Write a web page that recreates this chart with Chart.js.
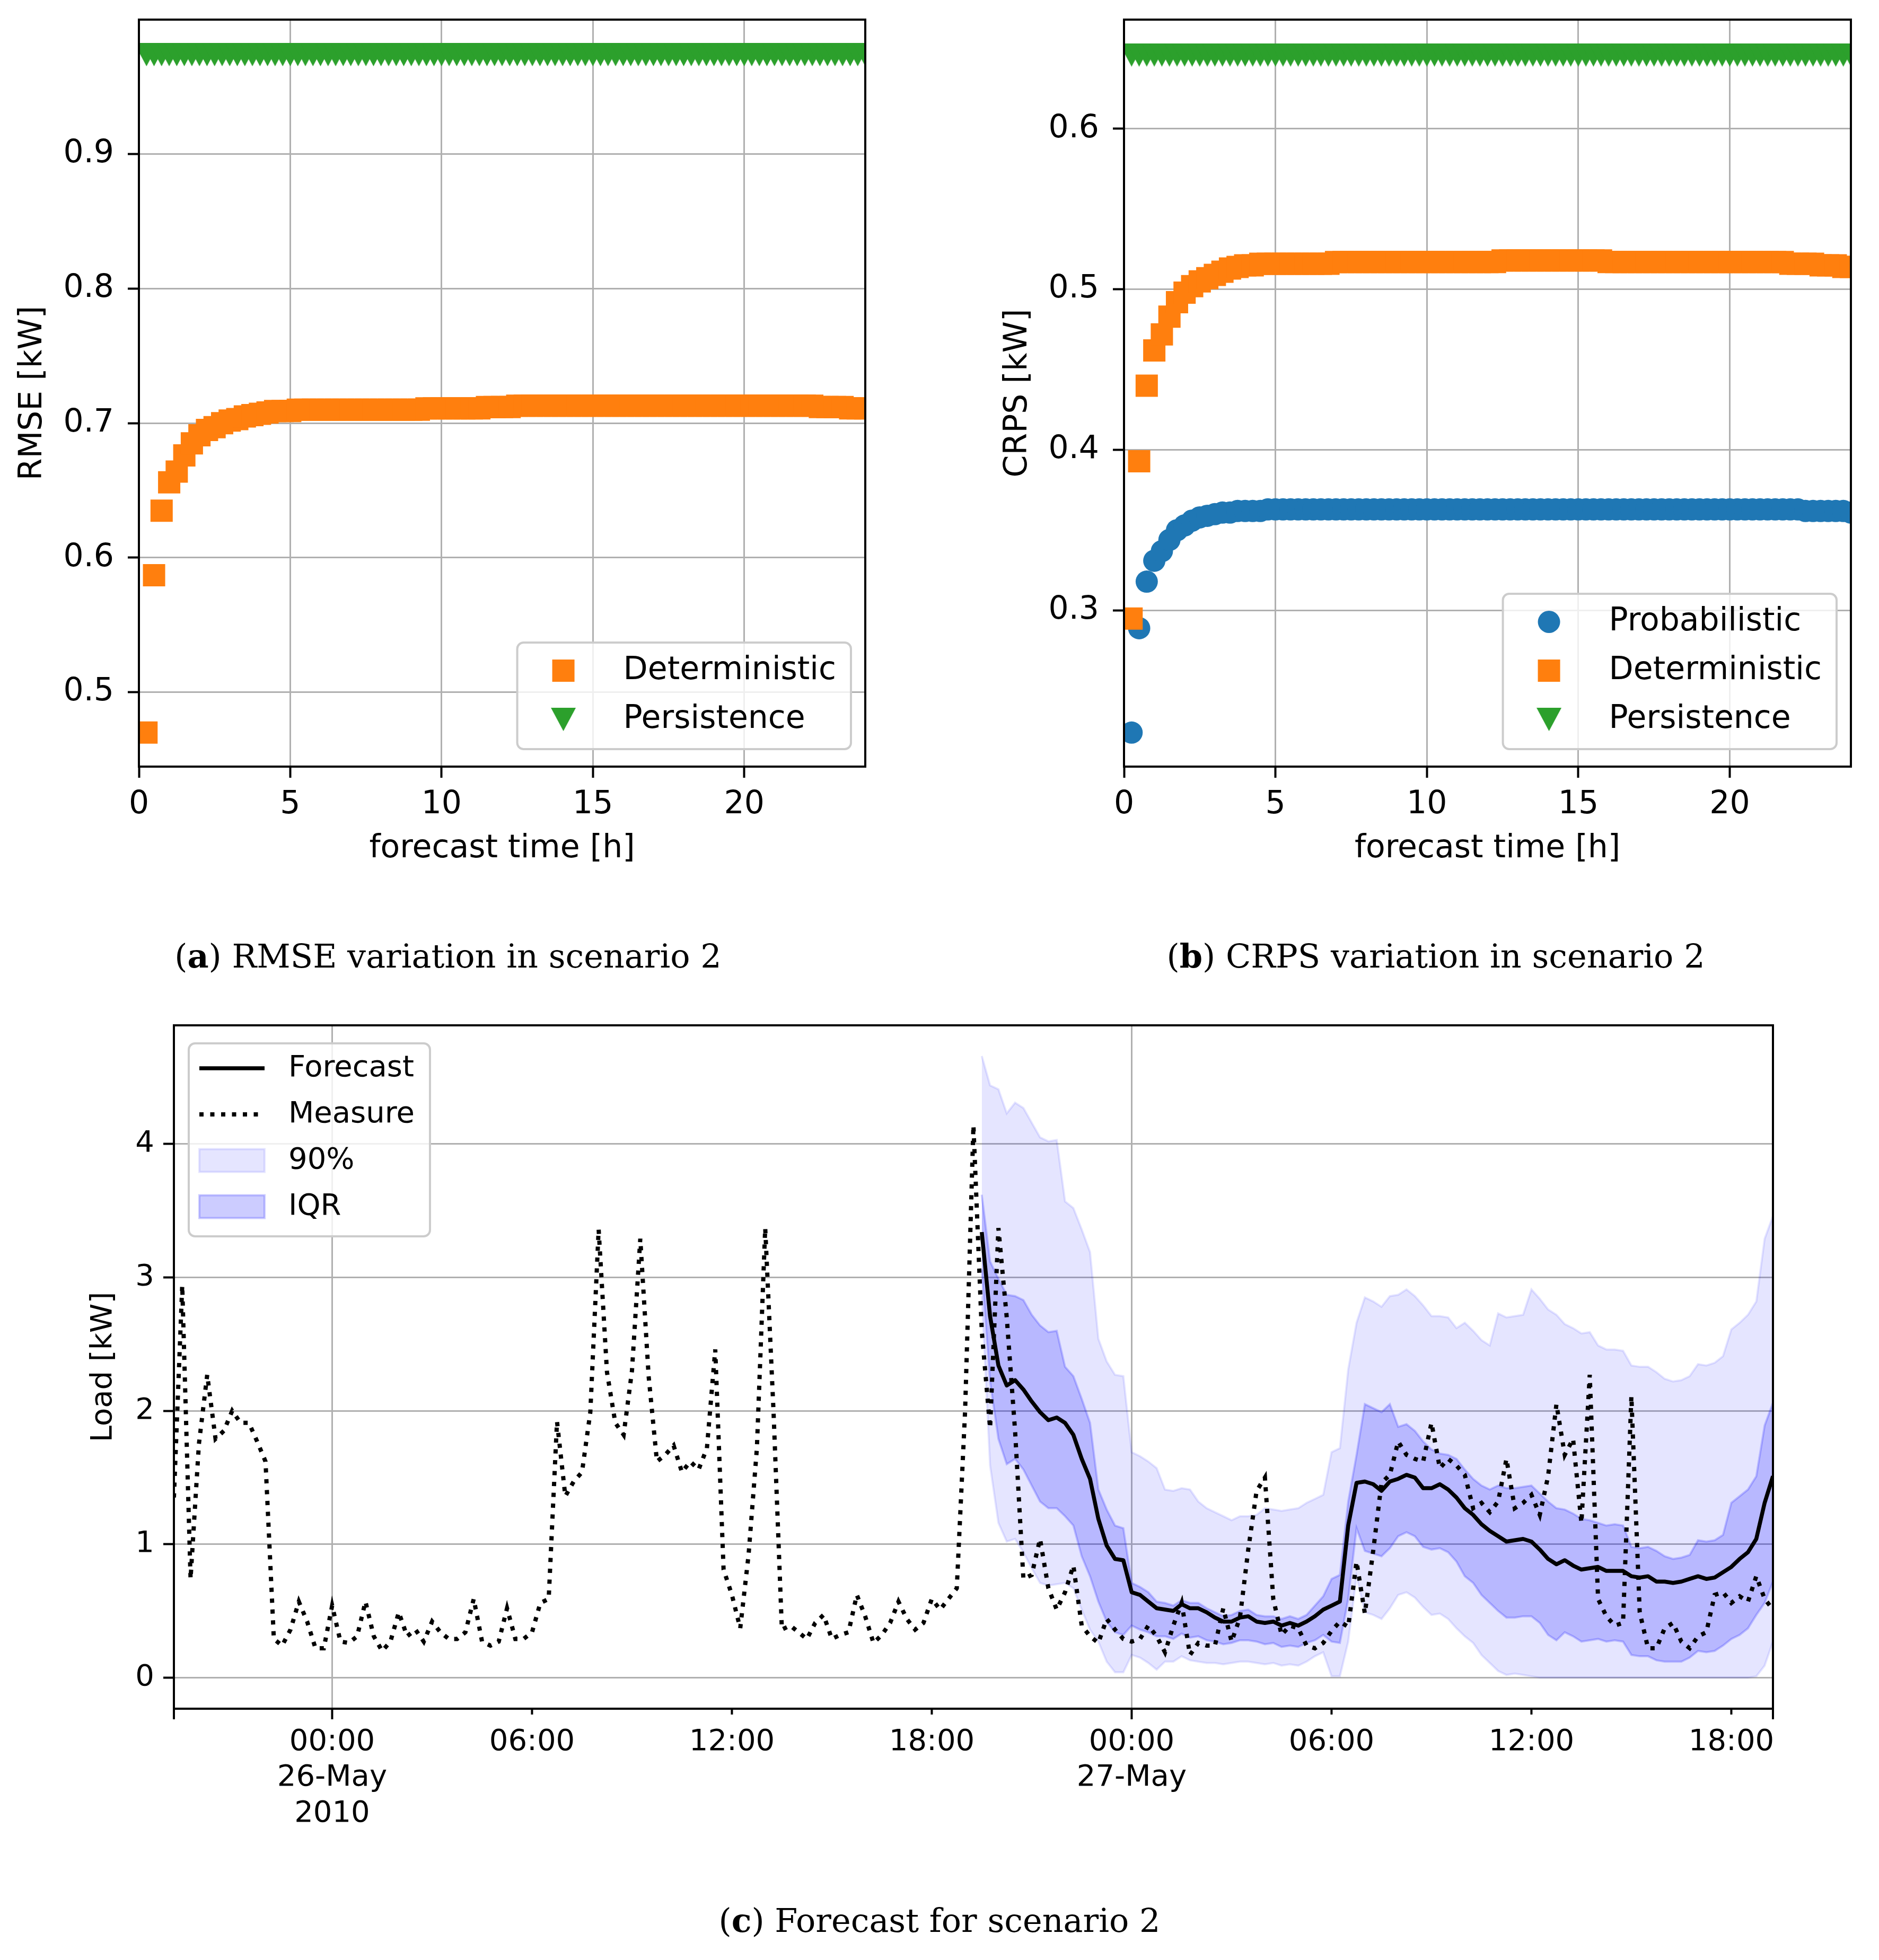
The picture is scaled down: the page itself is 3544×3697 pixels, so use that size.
<!DOCTYPE html>
<html lang="en">
<head>
<meta charset="UTF-8">
<title>Scenario 2: RMSE, CRPS and forecast</title>
<script src="https://cdn.jsdelivr.net/npm/chart.js"></script>
<style>
  body { margin: 0; background: #fff; }
  #page { position: relative; width: 3544px; height: 3697px; overflow: hidden; background: #fff; }
  canvas { position: absolute; }
  .caption {
    position: absolute;
    transform: translate(-50%, -50%);
    white-space: nowrap;
    font-family: "DejaVu Serif", serif;
    font-size: 62px;
    color: #000;
  }
</style>
</head>
<body>
<div id="page">
  <canvas id="chartA" width="1720" height="1700" style="left:0;top:0"></canvas>
  <canvas id="chartB" width="1772" height="1700" style="left:1772px;top:0"></canvas>
  <canvas id="chartC" width="3544" height="1600" style="left:0;top:1880px"></canvas>
  <div class="caption" style="left:845px;top:1803px">(<b>a</b>) RMSE variation in scenario 2</div>
  <div class="caption" style="left:2708px;top:1803px">(<b>b</b>) CRPS variation in scenario 2</div>
  <div class="caption" style="left:1772px;top:3622px">(<b>c</b>) Forecast for scenario 2</div>
</div>

<script>
// ---- panels (a) and (b): error vs forecast horizon, 96 horizons of 15 min ----
const horizons = Array.from({ length: 96 }, (_, i) => (i + 1) * 0.25);
const hourTicks = [0, 5, 10, 15, 20];
const rmseTicks = [0.5, 0.6, 0.7, 0.8, 0.9];
const crpsTicks = [0.3, 0.4, 0.5, 0.6];

const rmseDeterministic = [
  0.470, 0.587, 0.635, 0.656, 0.664, 0.676, 0.685, 0.691, 0.695, 0.697, 0.700, 0.702,
  0.703, 0.705, 0.706, 0.707, 0.708, 0.709, 0.709, 0.709, 0.710, 0.710, 0.710, 0.710,
  0.710, 0.710, 0.710, 0.710, 0.710, 0.710, 0.710, 0.710, 0.710, 0.710, 0.710, 0.710,
  0.710, 0.711, 0.711, 0.711, 0.711, 0.711, 0.711, 0.711, 0.711, 0.712, 0.712, 0.712,
  0.712, 0.713, 0.713, 0.713, 0.713, 0.713, 0.713, 0.713, 0.713, 0.713, 0.713, 0.713,
  0.713, 0.713, 0.713, 0.713, 0.713, 0.713, 0.713, 0.713, 0.713, 0.713, 0.713, 0.713,
  0.713, 0.713, 0.713, 0.713, 0.713, 0.713, 0.713, 0.713, 0.713, 0.713, 0.713, 0.713,
  0.713, 0.713, 0.713, 0.713, 0.713, 0.712, 0.712, 0.712, 0.712, 0.711, 0.711, 0.711
];
const rmsePersistence = [
  0.974, 0.974, 0.974, 0.974, 0.974, 0.974, 0.974, 0.974, 0.974, 0.974, 0.974, 0.974,
  0.974, 0.974, 0.974, 0.974, 0.974, 0.974, 0.974, 0.974, 0.974, 0.974, 0.974, 0.974,
  0.974, 0.974, 0.974, 0.974, 0.974, 0.974, 0.974, 0.974, 0.974, 0.974, 0.974, 0.974,
  0.974, 0.974, 0.974, 0.974, 0.974, 0.974, 0.974, 0.974, 0.974, 0.974, 0.974, 0.974,
  0.974, 0.974, 0.974, 0.974, 0.974, 0.974, 0.974, 0.974, 0.974, 0.974, 0.974, 0.974,
  0.974, 0.974, 0.974, 0.974, 0.974, 0.974, 0.974, 0.974, 0.974, 0.974, 0.974, 0.974,
  0.974, 0.974, 0.974, 0.974, 0.974, 0.974, 0.974, 0.974, 0.974, 0.974, 0.974, 0.974,
  0.974, 0.974, 0.974, 0.974, 0.974, 0.974, 0.974, 0.974, 0.974, 0.974, 0.974, 0.974
];

const crpsProbabilistic = [
  0.224, 0.289, 0.318, 0.331, 0.337, 0.344, 0.350, 0.353, 0.356, 0.358, 0.359, 0.360,
  0.361, 0.361, 0.362, 0.362, 0.362, 0.362, 0.363, 0.363, 0.363, 0.363, 0.363, 0.363,
  0.363, 0.363, 0.363, 0.363, 0.363, 0.363, 0.363, 0.363, 0.363, 0.363, 0.363, 0.363,
  0.363, 0.363, 0.363, 0.363, 0.363, 0.363, 0.363, 0.363, 0.363, 0.363, 0.363, 0.363,
  0.363, 0.363, 0.363, 0.363, 0.363, 0.363, 0.363, 0.363, 0.363, 0.363, 0.363, 0.363,
  0.363, 0.363, 0.363, 0.363, 0.363, 0.363, 0.363, 0.363, 0.363, 0.363, 0.363, 0.363,
  0.363, 0.363, 0.363, 0.363, 0.363, 0.363, 0.363, 0.363, 0.363, 0.363, 0.363, 0.363,
  0.363, 0.363, 0.363, 0.363, 0.363, 0.362, 0.362, 0.362, 0.362, 0.362, 0.362, 0.361
];
const crpsDeterministic = [
  0.295, 0.393, 0.440, 0.462, 0.472, 0.483, 0.492, 0.498, 0.502, 0.505, 0.507, 0.509,
  0.511, 0.513, 0.514, 0.515, 0.515, 0.516, 0.516, 0.516, 0.516, 0.516, 0.516, 0.516,
  0.516, 0.516, 0.516, 0.517, 0.517, 0.517, 0.517, 0.517, 0.517, 0.517, 0.517, 0.517,
  0.517, 0.517, 0.517, 0.517, 0.517, 0.517, 0.517, 0.517, 0.517, 0.517, 0.517, 0.517,
  0.517, 0.518, 0.518, 0.518, 0.518, 0.518, 0.518, 0.518, 0.518, 0.518, 0.518, 0.518,
  0.518, 0.518, 0.518, 0.517, 0.517, 0.517, 0.517, 0.517, 0.517, 0.517, 0.517, 0.517,
  0.517, 0.517, 0.517, 0.517, 0.517, 0.517, 0.517, 0.517, 0.517, 0.517, 0.517, 0.517,
  0.517, 0.517, 0.517, 0.516, 0.516, 0.516, 0.516, 0.515, 0.515, 0.515, 0.514, 0.514
];
const crpsPersistence = [
  0.646, 0.646, 0.646, 0.646, 0.646, 0.646, 0.646, 0.646, 0.646, 0.646, 0.646, 0.646,
  0.646, 0.646, 0.646, 0.646, 0.646, 0.646, 0.646, 0.646, 0.646, 0.646, 0.646, 0.646,
  0.646, 0.646, 0.646, 0.646, 0.646, 0.646, 0.646, 0.646, 0.646, 0.646, 0.646, 0.646,
  0.646, 0.646, 0.646, 0.646, 0.646, 0.646, 0.646, 0.646, 0.646, 0.646, 0.646, 0.646,
  0.646, 0.646, 0.646, 0.646, 0.646, 0.646, 0.646, 0.646, 0.646, 0.646, 0.646, 0.646,
  0.646, 0.646, 0.646, 0.646, 0.646, 0.646, 0.646, 0.646, 0.646, 0.646, 0.646, 0.646,
  0.646, 0.646, 0.646, 0.646, 0.646, 0.646, 0.646, 0.646, 0.646, 0.646, 0.646, 0.646,
  0.646, 0.646, 0.646, 0.646, 0.646, 0.646, 0.646, 0.646, 0.646, 0.646, 0.646, 0.646
];

// ---- panel (c): load in kW, time in hours from 26-May-2010 00:00 ----
const loadTicks = [0, 1, 2, 3, 4];
const timeTicks = [-4.75, 0, 6, 12, 18, 24, 30, 36, 42];
const timeTickLabels = ['', ['00:00', '26-May', '2010'], '06:00', '12:00', '18:00',
                        ['00:00', '27-May'], '06:00', '12:00', '18:00'];
const majorTimeTicks = [-4.75, 0, 24, 43.25];
const minorTimeTicks = [6, 12, 18, 30, 36, 42];

// measured load, one value every 15 min from 25-May 19:15 (4 per group = 1 hour)
const measure = [
  1.35, 2.94, 0.74, 1.75,   2.27, 1.79, 1.85, 2.00,   1.91, 1.91, 1.77, 1.62,
  0.29, 0.24, 0.36, 0.57,   0.42, 0.22, 0.22, 0.54,   0.27, 0.26, 0.31, 0.57,
  0.31, 0.20, 0.27, 0.49,   0.31, 0.36, 0.27, 0.42,   0.34, 0.29, 0.29, 0.34,
  0.59, 0.27, 0.24, 0.27,   0.52, 0.29, 0.29, 0.34,   0.56, 0.59, 1.92, 1.36,
  1.47, 1.54, 1.99, 3.36,   2.29, 1.91, 1.82, 2.30,   3.29, 2.26, 1.62, 1.67,
  1.74, 1.54, 1.62, 1.56,   1.72, 2.46, 0.81, 0.62,   0.37, 0.92, 1.72, 3.37,
  1.99, 0.36, 0.39, 0.34,   0.29, 0.41, 0.47, 0.29,   0.32, 0.34, 0.62, 0.46,
  0.26, 0.32, 0.41, 0.57,   0.44, 0.36, 0.41, 0.59,   0.51, 0.59, 0.67, 2.00,
  4.14, 2.60, 1.87, 3.37,   2.70, 1.85, 0.74, 0.77,   1.04, 0.67, 0.51, 0.64,
  0.84, 0.39, 0.31, 0.26,   0.44, 0.36, 0.29, 0.27,   0.29, 0.39, 0.31, 0.19,
  0.39, 0.56, 0.17, 0.26,   0.24, 0.24, 0.52, 0.27,   0.45, 0.96, 1.40, 1.50,
  0.59, 0.32, 0.39, 0.37,   0.24, 0.22, 0.26, 0.35,   0.42, 0.38, 0.87, 0.48,
  0.95, 1.46, 1.52, 1.77,   1.67, 1.64, 1.62, 1.91,   1.57, 1.64, 1.59, 1.52,
  1.27, 1.31, 1.24, 1.32,   1.64, 1.27, 1.31, 1.37,   1.22, 1.51, 2.05, 1.67,
  1.79, 1.16, 2.27, 0.59,   0.46, 0.39, 0.41, 2.11,   0.49, 0.22, 0.22, 0.37,
  0.41, 0.27, 0.22, 0.31,   0.34, 0.62, 0.64, 0.56,   0.61, 0.57, 0.76, 0.59,
  0.51
];

// forecast quantiles, one value every 15 min from 26-May 19:30
const forecastMedian = [
  3.34, 2.71,
  2.34, 2.19, 2.23, 2.16,   2.07, 1.99, 1.93, 1.95,   1.91, 1.82, 1.64, 1.49,   1.19, 0.99, 0.89, 0.88,
  0.64, 0.62, 0.57, 0.52,   0.51, 0.50, 0.55, 0.52,   0.52, 0.49, 0.45, 0.42,   0.42, 0.45, 0.46, 0.42,
  0.41, 0.42, 0.39, 0.41,   0.39, 0.42, 0.46, 0.51,   0.54, 0.57, 1.14, 1.46,   1.47, 1.45, 1.40, 1.47,
  1.49, 1.52, 1.50, 1.42,   1.42, 1.45, 1.41, 1.35,   1.27, 1.22, 1.15, 1.10,   1.06, 1.02, 1.03, 1.04,
  1.02, 0.96, 0.89, 0.85,   0.88, 0.84, 0.81, 0.82,   0.83, 0.80, 0.80, 0.80,   0.76, 0.75, 0.76, 0.72,
  0.72, 0.71, 0.72, 0.74,   0.76, 0.74, 0.75, 0.79,   0.83, 0.89, 0.94, 1.04,
  1.31, 1.51
];
const forecastQ95 = [
  4.66, 4.44,
  4.41, 4.23, 4.31, 4.27,   4.16, 4.05, 4.02, 4.03,   3.57, 3.52, 3.36, 3.19,   2.54, 2.37, 2.27, 2.26,
  1.69, 1.66, 1.62, 1.57,   1.41, 1.40, 1.42, 1.41,   1.32, 1.27, 1.24, 1.21,   1.18, 1.21, 1.21, 1.22,
  1.27, 1.26, 1.25, 1.26,   1.27, 1.31, 1.34, 1.37,   1.69, 1.72, 2.31, 2.66,   2.85, 2.82, 2.78, 2.86,
  2.87, 2.91, 2.86, 2.79,   2.71, 2.71, 2.70, 2.62,   2.66, 2.60, 2.53, 2.49,   2.73, 2.70, 2.71, 2.72,
  2.91, 2.84, 2.76, 2.72,   2.65, 2.62, 2.58, 2.59,   2.49, 2.46, 2.46, 2.45,   2.34, 2.33, 2.33, 2.29,
  2.24, 2.22, 2.23, 2.26,   2.35, 2.34, 2.36, 2.41,   2.61, 2.66, 2.72, 2.82,
  3.29, 3.46
];
const forecastQ75 = [
  3.62, 3.12,
  2.99, 2.87, 2.86, 2.83,   2.72, 2.64, 2.59, 2.60,   2.33, 2.26, 2.09, 1.91,   1.41, 1.26, 1.14, 1.12,
  0.71, 0.68, 0.64, 0.57,   0.56, 0.54, 0.58, 0.56,   0.56, 0.52, 0.49, 0.46,   0.47, 0.50, 0.51, 0.47,
  0.46, 0.46, 0.44, 0.46,   0.44, 0.47, 0.54, 0.61,   0.74, 0.77, 1.32, 1.67,   2.05, 2.02, 1.99, 2.05,
  1.88, 1.90, 1.85, 1.77,   1.71, 1.68, 1.67, 1.64,   1.56, 1.49, 1.44, 1.41,   1.44, 1.42, 1.42, 1.43,
  1.44, 1.38, 1.32, 1.27,   1.26, 1.23, 1.19, 1.18,   1.16, 1.14, 1.15, 1.14,   0.98, 0.97, 0.98, 0.95,
  0.91, 0.89, 0.90, 0.92,   1.03, 1.02, 1.03, 1.07,   1.31, 1.36, 1.41, 1.51,
  1.89, 2.06
];
const forecastQ25 = [
  3.06, 2.22,
  1.79, 1.60, 1.64, 1.56,   1.44, 1.32, 1.27, 1.27,   1.21, 1.14, 0.91, 0.76,   0.57, 0.42, 0.34, 0.32,
  0.39, 0.36, 0.34, 0.31,   0.31, 0.29, 0.33, 0.30,   0.31, 0.28, 0.27, 0.25,   0.26, 0.28, 0.28, 0.27,
  0.25, 0.26, 0.23, 0.24,   0.23, 0.26, 0.28, 0.32,   0.27, 0.26, 0.59, 1.12,   0.95, 0.93, 0.91, 0.97,
  1.06, 1.09, 1.06, 0.98,   0.96, 0.97, 0.94, 0.87,   0.76, 0.71, 0.62, 0.56,   0.50, 0.45, 0.45, 0.46,
  0.46, 0.41, 0.32, 0.28,   0.34, 0.31, 0.27, 0.28,   0.29, 0.27, 0.28, 0.27,   0.17, 0.16, 0.16, 0.13,
  0.12, 0.12, 0.12, 0.15,   0.20, 0.19, 0.20, 0.24,   0.29, 0.32, 0.37, 0.47,
  0.56, 0.72
];
const forecastQ05 = [
  2.86, 1.59,
  1.16, 1.02, 1.04, 0.94,   0.82, 0.71, 0.69, 0.70,   0.71, 0.67, 0.51, 0.36,   0.27, 0.12, 0.04, 0.04,
  0.17, 0.15, 0.11, 0.06,   0.12, 0.12, 0.16, 0.13,   0.12, 0.11, 0.11, 0.10,   0.11, 0.12, 0.12, 0.11,
  0.10, 0.11, 0.09, 0.10,   0.09, 0.12, 0.16, 0.19,   0.01, 0.01, 0.27, 0.76,   0.49, 0.47, 0.44, 0.52,
  0.62, 0.64, 0.60, 0.53,   0.47, 0.48, 0.44, 0.37,   0.31, 0.26, 0.17, 0.11,   0.05, 0.02, 0.03, 0.02,
  0.01, 0.00, 0.00, 0.00,   0.00, 0.00, 0.00, 0.00,   0.00, 0.00, 0.00, 0.00,   0.00, 0.00, 0.00, 0.00,
  0.00, 0.00, 0.00, 0.00,   0.00, 0.00, 0.00, 0.00,   0.00, 0.00, 0.00, 0.01,
  0.09, 0.27
];

const measureTimes = Array.from({ length: measure.length }, (_, i) => -4.75 + i * 0.25);
const forecastTimes = Array.from({ length: forecastMedian.length }, (_, i) => 19.5 + i * 0.25);

// ---- look ----
const orange = '#ff7f0e', green = '#2ca02c', blue = '#1f77b4';
const gridGrey = '#b0b0b0';
Chart.defaults.font.family = "'DejaVu Sans', sans-serif";
Chart.defaults.color = '#000';

function pts(xs, ys) {
  return ys.map((y, i) => ({ x: xs[i], y: y }));
}

// fix an axis box size and stop it from pushing the plot area around
function fixBox(prop, size) {
  return s => {
    s[prop] = size;
    s.paddingTop = 0; s.paddingBottom = 0; s.paddingLeft = 0; s.paddingRight = 0;
  };
}

// matplotlib style "v" marker (isosceles, as wide as tall)
function vMarker(w, h, color) {
  const c = document.createElement('canvas');
  c.width = w; c.height = h;
  const g = c.getContext('2d');
  g.beginPath();
  g.moveTo(0, 0); g.lineTo(w, 0); g.lineTo(w / 2, h); g.closePath();
  g.fillStyle = color;
  g.fill();
  return c;
}
const greenV = vMarker(47, 44, green);

// black box round the plot area
const frame = {
  id: 'frame',
  afterDraw(chart) {
    const a = chart.chartArea, ctx = chart.ctx;
    ctx.save();
    ctx.strokeStyle = '#000';
    ctx.lineWidth = 4;
    ctx.strokeRect(a.left, a.top, a.right - a.left, a.bottom - a.top);
    ctx.restore();
  }
};

// legend box drawn inside the plot area
const boxLegend = {
  id: 'boxLegend',
  afterDraw(chart, args, o) {
    if (!o || !o.items) return;
    const ctx = chart.ctx, area = chart.chartArea, ds = chart.data.datasets;
    ctx.save();
    ctx.font = o.fontSize + "px 'DejaVu Sans'";
    let tw = 0;
    o.items.forEach(it => { tw = Math.max(tw, ctx.measureText(ds[it.ds].label).width); });
    const w = o.textX + tw + o.padRight;
    const h = o.padTop + (o.items.length - 1) * o.rowH + o.padBottom;
    const x0 = o.corner === 'br' ? area.right - o.dx - w : area.left + o.dx;
    const y0 = o.corner === 'br' ? area.bottom - o.dy - h : area.top + o.dy;
    ctx.beginPath();
    ctx.roundRect(x0, y0, w, h, 12);
    ctx.fillStyle = 'rgba(255,255,255,0.8)';
    ctx.fill();
    ctx.lineWidth = 4;
    ctx.strokeStyle = '#cccccc';
    ctx.stroke();
    o.items.forEach((it, i) => {
      const d = ds[it.ds];
      const y = y0 + o.padTop + i * o.rowH;
      const mx = x0 + o.markerX;
      ctx.save();
      if (it.sym === 'rect') {
        const s = d.pointRadius * Math.SQRT1_2;
        ctx.fillStyle = d.pointBackgroundColor;
        ctx.fillRect(mx - s, y - s, 2 * s, 2 * s);
      } else if (it.sym === 'circle') {
        ctx.beginPath();
        ctx.arc(mx, y, d.pointRadius, 0, 2 * Math.PI);
        ctx.fillStyle = d.pointBackgroundColor;
        ctx.fill();
      } else if (it.sym === 'image') {
        const im = d.pointStyle;
        ctx.drawImage(im, mx - im.width / 2, y - im.height / 2);
      } else if (it.sym === 'line') {
        ctx.beginPath();
        ctx.moveTo(x0 + o.handleX0, y);
        ctx.lineTo(x0 + o.handleX1, y);
        ctx.strokeStyle = d.borderColor;
        ctx.lineWidth = d.borderWidth;
        ctx.setLineDash(d.borderDash || []);
        ctx.lineCap = 'butt';
        ctx.stroke();
      } else if (it.sym === 'patch') {
        const pw = o.handleX1 - o.handleX0, ph = o.patchH;
        ctx.fillStyle = d.backgroundColor;
        ctx.fillRect(x0 + o.handleX0, y - ph / 2, pw, ph);
        ctx.strokeStyle = d.borderColor;
        ctx.lineWidth = d.borderWidth;
        ctx.strokeRect(x0 + o.handleX0, y - ph / 2, pw, ph);
      }
      ctx.restore();
      ctx.fillStyle = '#000';
      ctx.textBaseline = 'middle';
      ctx.textAlign = 'left';
      ctx.fillText(d.label, x0 + o.textX, y);
    });
    ctx.restore();
  }
};

// major and minor tick marks under the time axis
const timeAxisTicks = {
  id: 'timeAxisTicks',
  afterDraw(chart, args, o) {
    if (!o || !o.major) return;
    const ctx = chart.ctx, a = chart.chartArea, xs = chart.scales.x;
    ctx.save();
    ctx.strokeStyle = '#000';
    ctx.lineWidth = 4;
    const mark = (v, len) => {
      const px = xs.getPixelForValue(v);
      ctx.beginPath();
      ctx.moveTo(px, a.bottom);
      ctx.lineTo(px, a.bottom + len);
      ctx.stroke();
    };
    o.major.forEach(v => mark(v, 20));
    o.minor.forEach(v => mark(v, 11));
    ctx.restore();
  }
};

const errLegend = {
  corner: 'br', dx: 27, dy: 33, padTop: 53, rowH: 92, padBottom: 56,
  markerX: 87, textX: 200, padRight: 28, fontSize: 60
};

function errScales(opt) {
  return {
    x: {
      type: 'linear', min: 0, max: 24,
      afterBuildTicks: s => { s.ticks = hourTicks.map(v => ({ value: v })); },
      afterFit: fixBox('height', 254),
      ticks: { font: { size: 60 }, color: '#000', padding: 15, maxRotation: 0, autoSkip: false,
               callback: v => String(v) },
      grid: { color: gridGrey, lineWidth: 3, tickColor: '#000', tickWidth: 4, tickLength: 21 },
      border: { display: false },
      title: { display: true, text: 'forecast time [h]', font: { size: 60 }, color: '#000',
               padding: { top: 0, bottom: 63 } }
    },
    y: {
      type: 'linear', min: opt.min, max: opt.max,
      afterBuildTicks: s => { s.ticks = opt.ticks.map(v => ({ value: v })); },
      afterFit: fixBox('width', opt.width),
      ticks: { font: { size: 60 }, color: '#000', padding: 26, callback: v => v.toFixed(1) },
      grid: { color: gridGrey, lineWidth: 3, tickColor: '#000', tickWidth: 4, tickLength: 21 },
      border: { display: false },
      title: { display: true, text: opt.title, font: { size: 60 }, color: '#000',
               padding: { top: opt.titlePad, bottom: 0 } }
    }
  };
}

// (a) RMSE
new Chart(document.getElementById('chartA'), {
  type: 'scatter',
  data: {
    datasets: [
      { label: 'Deterministic', data: pts(horizons, rmseDeterministic), order: 1, clip: 0,
        pointStyle: 'rect', pointRadius: 29.7, pointHoverRadius: 29.7,
        pointBackgroundColor: orange, pointBorderWidth: 0 },
      { label: 'Persistence', data: pts(horizons, rmsePersistence), order: 0, clip: 0,
        pointStyle: greenV, pointRadius: 24, pointBackgroundColor: green, pointBorderWidth: 0 }
    ]
  },
  options: {
    responsive: false, animation: false, devicePixelRatio: 1,
    layout: { padding: { top: 37, right: 88, bottom: 0, left: 0 } },
    plugins: {
      legend: { display: false }, tooltip: { enabled: false },
      boxLegend: Object.assign({ items: [{ ds: 0, sym: 'rect' }, { ds: 1, sym: 'image' }] }, errLegend)
    },
    scales: errScales({ min: 0.4447, max: 1.0, ticks: rmseTicks, width: 262,
                        title: 'RMSE [kW]', titlePad: 26 })
  },
  plugins: [frame, boxLegend]
});

// (b) CRPS
new Chart(document.getElementById('chartB'), {
  type: 'scatter',
  data: {
    datasets: [
      { label: 'Probabilistic', data: pts(horizons, crpsProbabilistic), order: 2, clip: 0,
        pointStyle: 'circle', pointRadius: 21, pointHoverRadius: 21,
        pointBackgroundColor: blue, pointBorderWidth: 0 },
      { label: 'Deterministic', data: pts(horizons, crpsDeterministic), order: 1, clip: 0,
        pointStyle: 'rect', pointRadius: 29.7, pointHoverRadius: 29.7,
        pointBackgroundColor: orange, pointBorderWidth: 0 },
      { label: 'Persistence', data: pts(horizons, crpsPersistence), order: 0, clip: 0,
        pointStyle: greenV, pointRadius: 24, pointBackgroundColor: green, pointBorderWidth: 0 }
    ]
  },
  options: {
    responsive: false, animation: false, devicePixelRatio: 1,
    layout: { padding: { top: 37, right: 53, bottom: 0, left: 0 } },
    plugins: {
      legend: { display: false }, tooltip: { enabled: false },
      boxLegend: Object.assign({ items: [{ ds: 0, sym: 'circle' }, { ds: 1, sym: 'rect' },
                                         { ds: 2, sym: 'image' }] }, errLegend)
    },
    scales: errScales({ min: 0.2028, max: 0.668, ticks: crpsTicks, width: 348,
                        title: 'CRPS [kW]', titlePad: 112 })
  },
  plugins: [frame, boxLegend]
});

// (c) forecast with quantile bands
const band90 = 'rgba(0,0,255,0.1)';
const bandIQR = 'rgba(0,0,255,0.2)';
new Chart(document.getElementById('chartC'), {
  type: 'line',
  data: {
    datasets: [
      { label: 'Forecast', data: pts(forecastTimes, forecastMedian), borderColor: '#000',
        borderWidth: 7.5, borderJoinStyle: 'round', pointRadius: 0, fill: false },
      { label: 'Measure', data: pts(measureTimes, measure), borderColor: '#000',
        borderWidth: 8, borderDash: [8, 12.5], borderCapStyle: 'butt', pointRadius: 0, fill: false },
      { label: '5%', data: pts(forecastTimes, forecastQ05), borderColor: band90,
        backgroundColor: band90, borderWidth: 4, pointRadius: 0, fill: false },
      { label: '90%', data: pts(forecastTimes, forecastQ95), borderColor: band90,
        backgroundColor: band90, borderWidth: 4, pointRadius: 0, fill: '-1' },
      { label: '25%', data: pts(forecastTimes, forecastQ25), borderColor: bandIQR,
        backgroundColor: bandIQR, borderWidth: 4, pointRadius: 0, fill: false },
      { label: 'IQR', data: pts(forecastTimes, forecastQ75), borderColor: bandIQR,
        backgroundColor: bandIQR, borderWidth: 4, pointRadius: 0, fill: '-1' }
    ]
  },
  options: {
    responsive: false, animation: false, devicePixelRatio: 1,
    layout: { padding: { top: 54, right: 200, bottom: 0, left: 0 } },
    elements: { line: { tension: 0 } },
    plugins: {
      legend: { display: false }, tooltip: { enabled: false },
      boxLegend: {
        items: [{ ds: 0, sym: 'line' }, { ds: 1, sym: 'line' }, { ds: 3, sym: 'patch' }, { ds: 5, sym: 'patch' }],
        corner: 'tl', dx: 28, dy: 34, padTop: 47, rowH: 87, padBottom: 56,
        handleX0: 20, handleX1: 143, patchH: 43, textX: 188, padRight: 29, fontSize: 56
      },
      timeAxisTicks: { major: majorTimeTicks, minor: minorTimeTicks }
    },
    scales: {
      x: {
        type: 'linear', min: -4.75, max: 43.25,
        afterBuildTicks: s => { s.ticks = timeTicks.map(v => ({ value: v })); },
        afterFit: fixBox('height', 257),
        ticks: { font: { size: 56 }, color: '#000', padding: 30, maxRotation: 0, minRotation: 0,
                 autoSkip: false, callback: (v, i) => timeTickLabels[i] },
        grid: { color: c => (c.tick && (c.tick.value === 0 || c.tick.value === 24)) ? gridGrey : 'rgba(0,0,0,0)',
                lineWidth: 3, drawTicks: false },
        border: { display: false }
      },
      y: {
        type: 'linear', min: -0.233, max: 4.89,
        afterBuildTicks: s => { s.ticks = loadTicks.map(v => ({ value: v })); },
        afterFit: fixBox('width', 328),
        ticks: { font: { size: 56 }, color: '#000', padding: 17, callback: v => String(v) },
        grid: { color: gridGrey, lineWidth: 3, tickColor: '#000', tickWidth: 4, tickLength: 20 },
        border: { display: false },
        title: { display: true, text: 'Load [kW]', font: { size: 56 }, color: '#000',
                 padding: { top: 162, bottom: 0 } }
      }
    }
  },
  plugins: [frame, boxLegend, timeAxisTicks]
});
</script>
</body>
</html>
